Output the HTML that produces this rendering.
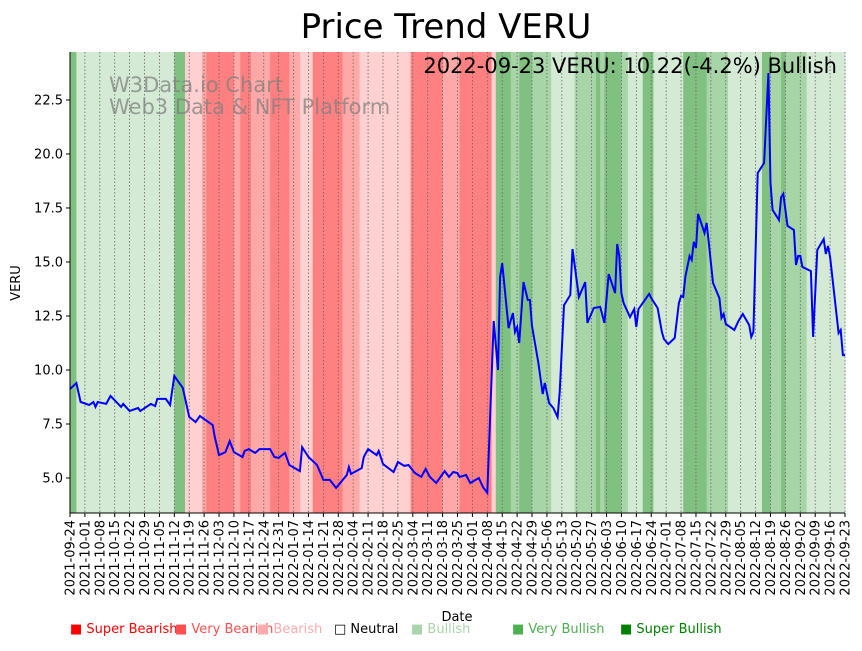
<!DOCTYPE html>
<html><head><meta charset="utf-8"><style>
body{margin:0;background:#fff;font-family:"Liberation Sans","DejaVu Sans",sans-serif}
svg text{font-family:"DejaVu Sans","Liberation Sans",sans-serif}
</style></head><body>
<svg id="chart" width="862" height="646" xmlns="http://www.w3.org/2000/svg">
<text x="446" y="38" font-size="34" text-anchor="middle">Price Trend VERU</text>
<g id="bands"></g>
<g id="grid"></g>
<g fill="#808080" fill-opacity="0.75" font-size="21">
<text x="109" y="92">W3Data.io Chart</text><text x="109" y="114">Web3 Data &amp; NFT Platform</text></g>
<path id="line" fill="none" stroke="#0000ff" stroke-width="2"/>
<text x="837" y="73" font-size="21" text-anchor="end">2022-09-23 VERU: 10.22(-4.2%) Bullish</text>
<g id="axes"></g>
<text x="457" y="621" font-size="13" text-anchor="middle">Date</text>
<text transform="translate(20,283) rotate(-90)" font-size="13" text-anchor="middle">VERU</text>
<g font-size="13">
<text x="70" y="633" fill="#ff0000">■ Super Bearish</text>
<text x="175" y="633" fill="#ff5050">■ Very Bearish</text>
<text x="257" y="633" fill="#ffaaaa">■ Bearish</text>
<text x="334" y="633" fill="#000">□ Neutral</text>
<text x="411" y="633" fill="#aad4aa">■ Bullish</text>
<text x="512" y="633" fill="#4caf50">■ Very Bullish</text>
<text x="620" y="633" fill="#008000">■ Super Bullish</text>
</g>
</svg>
<script>
const days=[0,3,5,9,11,12,13,17,19,24,25,28,32,33,38,40,41,45,47,49,53,56,59,61,67,68,70,73,75,77,81,82,84,87,89,94,96,98,101,103,108,109,112,116,119,122,125,130,131,132,137,138,140,144,145,147,152,154,157,159,162,165,167,169,172,174,176,178,180,182,183,186,188,192,194,196,199,201,202,203,206,208,209,210,211,213,215,216,217,220,222,223,225,227,229,230,232,235,236,239,242,243,246,249,251,253,256,257,258,259,260,263,265,266,267,272,273,276,278,279,281,284,286,287,288,289,291,292,293,294,295,298,299,300,302,305,306,307,308,312,314,316,319,320,321,323,326,328,329,330,333,334,335,337,340,341,342,343,344,348,349,351,354,355,356,357,361,362,363,364];
const prices=[9.12,9.40,8.52,8.38,8.52,8.29,8.52,8.43,8.80,8.29,8.43,8.10,8.24,8.10,8.43,8.33,8.66,8.66,8.38,9.72,9.17,7.83,7.59,7.87,7.45,6.90,6.06,6.20,6.71,6.20,5.97,6.25,6.34,6.16,6.34,6.34,5.97,5.93,6.16,5.60,5.32,6.43,5.97,5.60,4.91,4.91,4.54,5.14,5.51,5.19,5.46,5.97,6.34,6.06,6.25,5.65,5.28,5.74,5.56,5.60,5.23,5.05,5.42,5.05,4.77,5.05,5.32,5.05,5.28,5.23,5.05,5.14,4.77,5.00,4.58,4.31,12.27,10.0,14.3,14.95,11.94,12.64,11.76,11.99,11.25,14.07,13.24,13.24,12.04,10.32,8.89,9.40,8.47,8.24,7.82,8.98,13.0,13.47,15.6,13.38,14.07,12.18,12.87,12.92,12.18,14.44,13.56,15.83,15.28,13.56,13.1,12.45,12.82,11.99,12.82,13.52,13.33,12.87,11.76,11.43,11.2,11.48,13.1,13.43,13.38,14.3,15.28,15.1,15.93,15.65,17.22,16.34,16.81,15.93,14.03,13.33,12.41,12.59,12.13,11.85,12.27,12.59,12.08,11.53,11.76,19.12,19.58,23.75,18.66,17.41,16.94,18.0,18.15,16.67,16.48,14.86,15.28,15.28,14.77,14.58,11.53,15.56,16.06,15.37,15.74,15.23,11.71,11.85,10.69,10.69,10.22];
const bandStarts=[0,3,49,54,62,64,77,80,85,94,103,108,114,128,136,160,175,183,198,200,207,211,217,226,237,247,249,251,259,262,269,274,288,299,309,325,329,334,336,346];
const bandRegimes=[3,1,3,-1,-2,-3,-2,-3,-2,-3,-2,-1,-3,-2,-1,-3,-2,-3,-1,3,2,3,2,1,2,3,2,3,2,1,3,1,3,2,1,3,2,3,2,1];
const yTicks=[5.0,7.5,10.0,12.5,15.0,17.5,20.0,22.5];
const startDate=new Date(Date.UTC(2021,8,24));
const NS="http://www.w3.org/2000/svg";
const L=70,R=845,T=52,B=513,D0=0,D1=364,V0=3.38,V1=24.72;
function xs(d){return L+(d-D0)/(D1-D0)*(R-L);}
function ys(v){return B-(v-V0)/(V1-V0)*(B-T);}
function mk(tag,attrs,parent){const e=document.createElementNS(NS,tag);for(const k in attrs)e.setAttribute(k,attrs[k]);parent.appendChild(e);return e;}
const colors={"3":"#80c080","2":"#a8d5a8","1":"#d4ead4","-1":"#ffd0d0","-2":"#ffa8a8","-3":"#ff8080"};
const bands=document.getElementById('bands');
for(let i=0;i<bandStarts.length;i++){
  const s=bandStarts[i],e=Math.min(i+1<bandStarts.length?bandStarts[i+1]:D1,D1);
  const r=mk('rect',{x:xs(s),y:T,width:Math.max(0,xs(e)-xs(s))+0.5,height:B-T,fill:colors[bandRegimes[i]]},bands);
  
  
}
const grid=document.getElementById('grid'),axes=document.getElementById('axes');
for(let d=0;d<=D1;d+=7){
  const x=xs(d);
  const gl=mk('line',{x1:x,x2:x,y1:T,y2:B,stroke:'#666','stroke-width':0.8,'stroke-dasharray':'1.5,2'},grid);
  
  
  const tk=mk('line',{x1:x,x2:x,y1:B,y2:B+4,stroke:'#000'},axes);
  
  
  const dt=new Date(startDate.getTime()+d*86400000);
  const lab=dt.toISOString().slice(0,10);
  const t=mk('text',{transform:`translate(${x+4.5},${B+7}) rotate(-90)`,'font-size':13,'text-anchor':'end'},axes);
  t.textContent=lab;
  
  
}
yTicks.forEach(v=>{
  const y=ys(v);
  const tk=mk('line',{x1:L-4,x2:L,y1:y,y2:y,stroke:'#000'},axes);
  
  
  const t=mk('text',{x:L-7,y:y+4.5,'font-size':13,'text-anchor':'end'},axes);
  t.textContent=v.toFixed(1);
  
  
});
const la=mk('line',{x1:L,x2:L,y1:T,y2:B,stroke:'#000'},axes);


const lb=mk('line',{x1:L,x2:R,y1:B,y2:B,stroke:'#000'},axes);


let dstr='';
for(let i=0;i<days.length;i++){dstr+=(i?'L':'M')+xs(days[i]).toFixed(1)+','+ys(prices[i]).toFixed(1);}
document.getElementById('line').setAttribute('d',dstr);
</script>
</body></html>
